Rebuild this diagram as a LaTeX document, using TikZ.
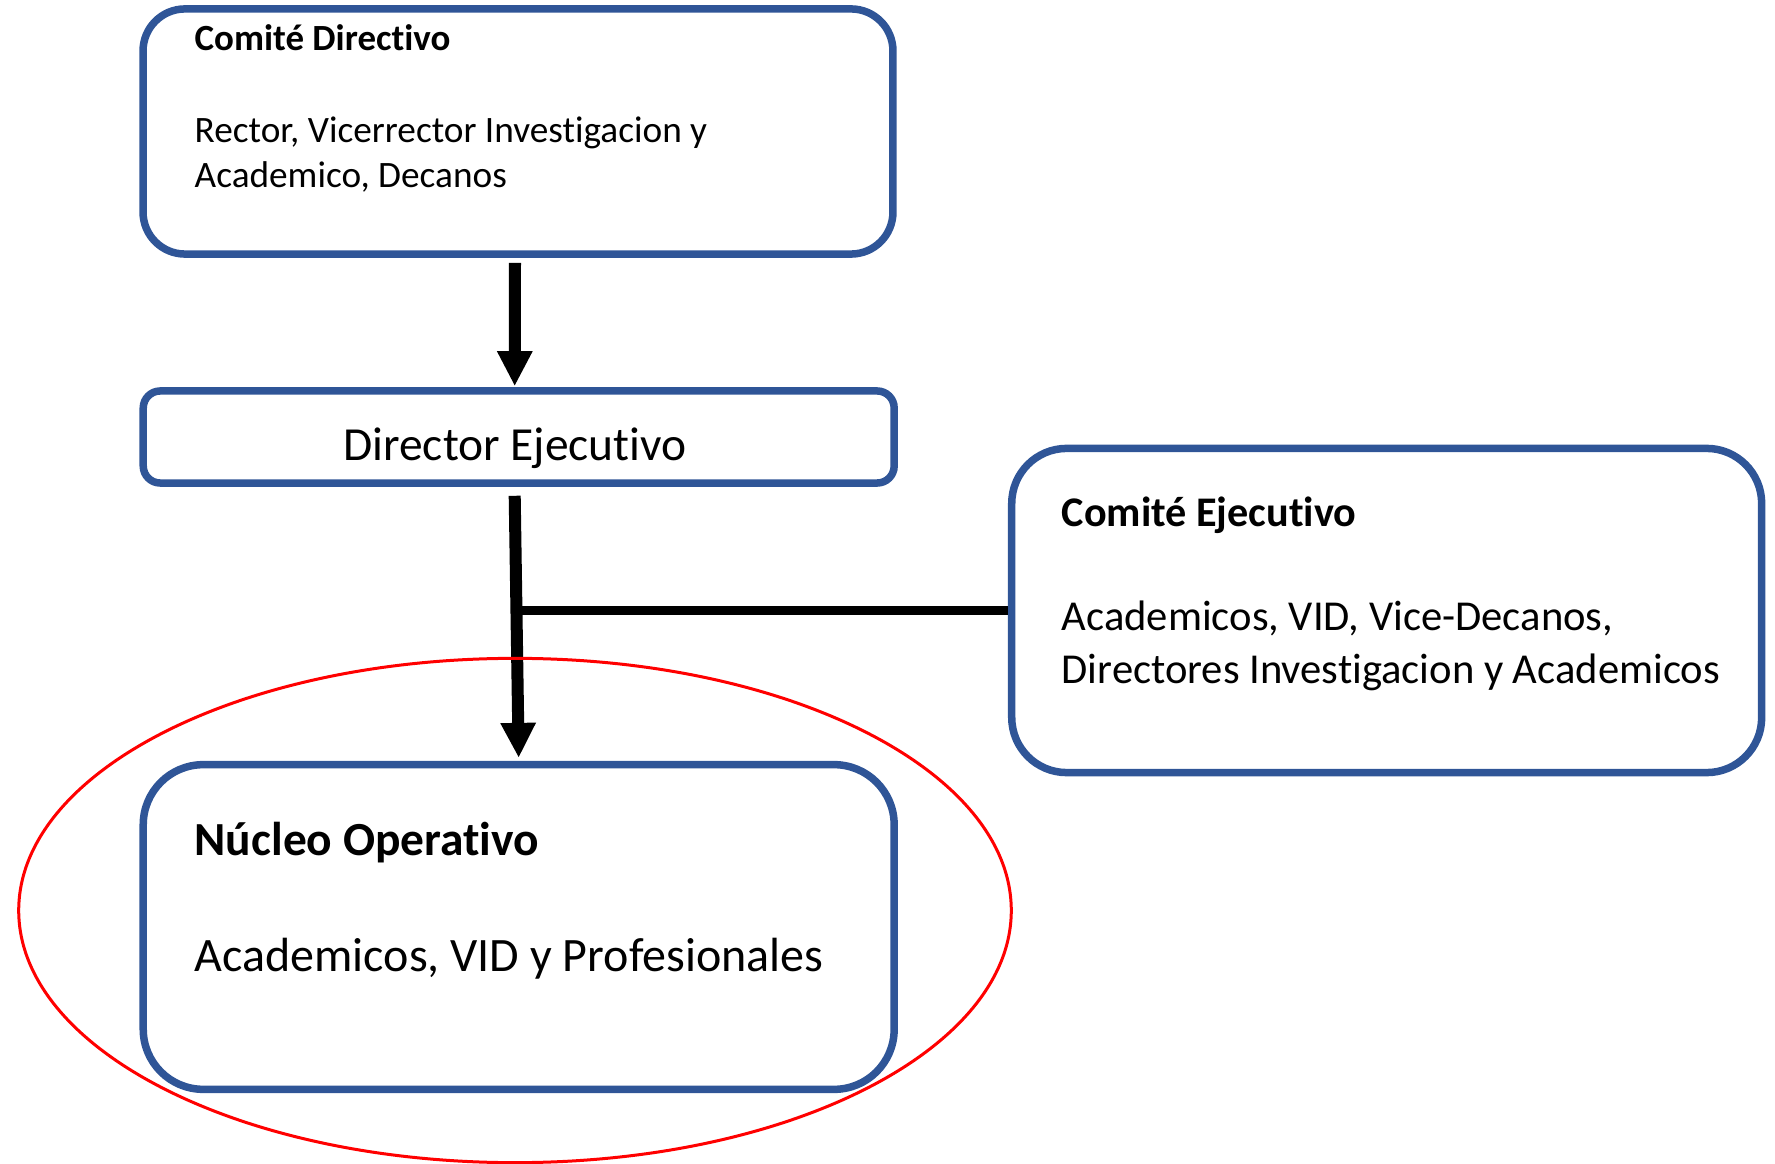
\documentclass[tikz,border=0pt]{standalone}
\usepackage{fontspec}
\setmainfont{Carlito}[Ligatures = NoCommon]
\usepackage{tikz}
\usetikzlibrary{arrows.meta}
\usetikzlibrary{positioning}
\definecolor{boxblue}{RGB}{47,85,151}
\tikzset{unit/.style = {draw = boxblue, line width = 0.075cm, inner sep = 0}}
\tikzset{link/.style = {line width = 0.12cm, -{Triangle[width = 0.33cm, length = 0.35cm]}}}
\tikzset{tie/.style = {line width = 0.085cm}}
\tikzset{lbl/.style = {anchor = base west, inner sep = 0, align = left}}

\begin{document}
\begin{tikzpicture}[x = 0.01cm, y = -0.01cm]
        \useasboundingbox (0, 0) rectangle (1775, 1164);

        \node [unit, rounded corners = 0.42cm, minimum width = 7.495cm, minimum height = 2.45cm] (cd) at (518, 131.5) {};
        \node [unit, rounded corners = 0.17cm, minimum width = 7.505cm, minimum height = 0.92cm] (de) at (518.7, 437) {};
        \node [unit, rounded corners = 0.55cm, minimum width = 7.495cm, minimum height = 3.24cm] (ce) at (1386.7, 610.5) {};
        \node [unit, rounded corners = 0.6cm, minimum width = 7.505cm, minimum height = 3.245cm] (no) at (518.7, 927) {};

        \node [anchor = base, inner sep = 0, font = \fontsize{13.5}{16}\selectfont] (detext) at (515, 461) {Director Ejecutivo};
        \node [lbl, font = \fontsize{10.5}{12.8}\selectfont\bfseries] (cdtitle) at (194, 51) {Comité Directivo};
        \node [lbl, font = \fontsize{10.6}{12.8}\selectfont] (cdbody) at (194, 188)
          {Rector, Vicerrector Investigacion y\\Academico, Decanos};
        \node [lbl, font = \fontsize{12}{14.8}\selectfont\bfseries] (cetitle) at (1061, 527) {Comité Ejecutivo};
        \node [lbl, font = \fontsize{12.12}{14.8}\selectfont] (cebody) at (1061, 683)
          {Academicos, VID, Vice-Decanos,\\Directores Investigacion y Academicos};
        \node [lbl, font = \fontsize{13.5}{16}\selectfont\bfseries] (notitle) at (194, 856) {Núcleo Operativo};
        \node [lbl, font = \fontsize{13.65}{16}\selectfont] (nobody) at (194, 971) {Academicos, VID y Profesionales};

        \coordinate (deout) at ([xshift = -0.04cm, yshift = -0.09cm]de.south);
        \coordinate (noin) at ([xshift = 0.0cm, yshift = 0.03cm]no.north);
        \draw [link] ([xshift = -0.03cm, yshift = -0.05cm]cd.south) -- ([xshift = -0.04cm, yshift = 0.01cm]de.north);
        \draw [link] (deout) -- (noin);
        \draw [tie] (ce.west) -- (ce.west -| deout);

        \draw [red, line width = 0.03cm] (515, 910.5) ellipse [x radius = 4.96cm, y radius = 2.52cm];
      \end{tikzpicture}
\end{document}
